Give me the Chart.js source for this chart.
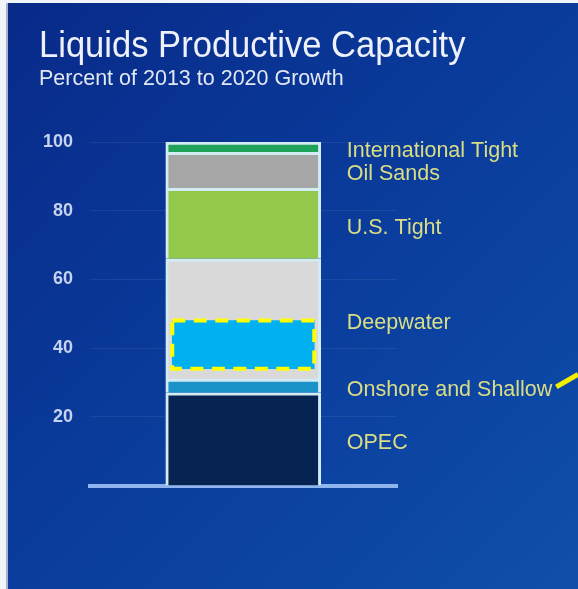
<!DOCTYPE html>
<html lang="en">
<head>
<meta charset="UTF-8">
<title>Liquids Productive Capacity</title>
<script src="https://cdn.jsdelivr.net/npm/chart.js@4.4.1/dist/chart.umd.min.js"></script>
<style>
  html, body { margin: 0; padding: 0; background: #ffffff; }
  .chart-box { position: relative; width: 578px; height: 589px; }
</style>
</head>
<body>
<div class="chart-box"><canvas id="capacityChart"></canvas></div>
<script>
// share of 2013-2020 capacity growth, listed from the bottom of the stack up
const period = ['2013-2020'];
const sources = ['OPEC', 'Onshore and Shallow', 'Deepwater', 'U.S. Tight', 'Oil Sands', 'International Tight'];
const shares = [27, 4, 35, 20.5, 10.5, 3];
const highlightSpan = [34, 48];
const yTicks = [20, 40, 60, 80, 100];

const sourceColors = ['#072352', '#1b93c8', '#d9d9d9', '#92c84c', '#a6a6a6', '#1ea25a'];
const edgeColor = '#d3ebf3';
const labelColor = '#dadd84';
const fontFamily = '"Liberation Sans", Arial, sans-serif';

// slide background: pale page margin on the left, blue gradient panel
const backdrop = {
  id: 'backdrop',
  beforeDraw(chart) {
    const {ctx, width, height} = chart;
    ctx.save();
    ctx.fillStyle = '#f1f4f9';
    ctx.fillRect(0, 0, width, height);
    const g = ctx.createLinearGradient(8, 3, width, height);
    g.addColorStop(0, '#082a89');
    g.addColorStop(0.5, '#0a3c9c');
    g.addColorStop(1, '#0f4fab');
    ctx.fillStyle = g;
    ctx.fillRect(8, 3, width - 8, height - 3);
    ctx.fillStyle = '#a7b4cc';
    ctx.fillRect(6, 3, 2, height - 3);
    ctx.restore();
  }
};

// dashed yellow frame round the highlight block
const highlightOutline = {
  id: 'highlightOutline',
  afterDatasetsDraw(chart) {
    const bar = chart.getDatasetMeta(sources.length).data[0];
    if (!bar) return;
    const ctx = chart.ctx;
    const top = Math.min(bar.y, bar.base);
    ctx.save();
    ctx.strokeStyle = '#ffff00';
    ctx.lineWidth = 4;
    ctx.setLineDash([13, 8.5]);
    ctx.strokeRect(bar.x - bar.width / 2, top, bar.width, Math.abs(bar.base - bar.y));
    ctx.restore();
  }
};

// source names to the right of each segment, plus the pointer stroke
const segmentLabels = {
  id: 'segmentLabels',
  afterDatasetsDraw(chart) {
    const ctx = chart.ctx;
    ctx.save();
    ctx.font = '21.5px ' + fontFamily;
    ctx.fillStyle = labelColor;
    ctx.textBaseline = 'middle';
    let pointer = null;
    sources.forEach((name, i) => {
      const bar = chart.getDatasetMeta(i).data[0];
      const x = bar.x + bar.width / 2 + 26;
      const y = (bar.y + bar.base) / 2 + 4;
      ctx.fillText(name, x, y);
      if (name === 'Onshore and Shallow') {
        pointer = {x: x + ctx.measureText(name).width + 4, y: y - 3};
      }
    });
    if (pointer) {
      ctx.strokeStyle = '#f4ef00';
      ctx.lineWidth = 5;
      ctx.beginPath();
      ctx.moveTo(pointer.x, pointer.y);
      ctx.lineTo(chart.width, pointer.y - 0.58 * (chart.width - pointer.x));
      ctx.stroke();
    }
    ctx.restore();
  }
};

// title and subtitle in the top left corner
const headings = {
  id: 'headings',
  afterDraw(chart) {
    const ctx = chart.ctx;
    ctx.save();
    ctx.fillStyle = '#eef1fa';
    ctx.textBaseline = 'alphabetic';
    ctx.font = '36px ' + fontFamily;
    ctx.translate(39, 57);
    ctx.scale(0.96, 1);
    ctx.fillText('Liquids Productive Capacity', 0, 0);
    ctx.restore();

    ctx.save();
    ctx.fillStyle = '#e2e7f4';
    ctx.font = '21.5px ' + fontFamily;
    ctx.fillText('Percent of 2013 to 2020 Growth', 39, 85);
    ctx.restore();
  }
};

const datasets = sources.map((name, i) => ({
  label: name,
  data: [shares[i]],
  backgroundColor: sourceColors[i],
  borderColor: edgeColor,
  borderWidth: 3,
  barThickness: 155
}));

// drawn last (lowest order) so it sits over the Deepwater segment
datasets.push({
  label: 'highlight',
  data: [highlightSpan],
  stack: 'highlight',
  grouped: false,
  order: -1,
  backgroundColor: '#00b0f0',
  borderWidth: 0,
  barThickness: 142
});

new Chart(document.getElementById('capacityChart'), {
  type: 'bar',
  data: { labels: period, datasets: datasets },
  options: {
    responsive: true,
    maintainAspectRatio: false,
    animation: false,
    layout: { padding: { left: 26.5, right: 181, top: 142, bottom: 103.5 } },
    plugins: {
      legend: { display: false },
      tooltip: { enabled: false }
    },
    scales: {
      x: {
        stacked: true,
        z: 1,
        grid: { display: false, drawTicks: false },
        ticks: { display: false },
        border: { display: true, color: '#8fb4ee', width: 4 }
      },
      y: {
        stacked: true,
        min: 0,
        max: 100,
        afterBuildTicks: axis => { axis.ticks = yTicks.map(v => ({ value: v })); },
        grid: { color: 'rgba(255,255,255,0.07)', drawTicks: false },
        border: { display: false },
        ticks: {
          padding: 16.5,
          color: '#c6d2ef',
          font: { family: fontFamily, size: 18, weight: 'bold' }
        }
      }
    }
  },
  plugins: [backdrop, highlightOutline, segmentLabels, headings]
});
</script>
</body>
</html>
